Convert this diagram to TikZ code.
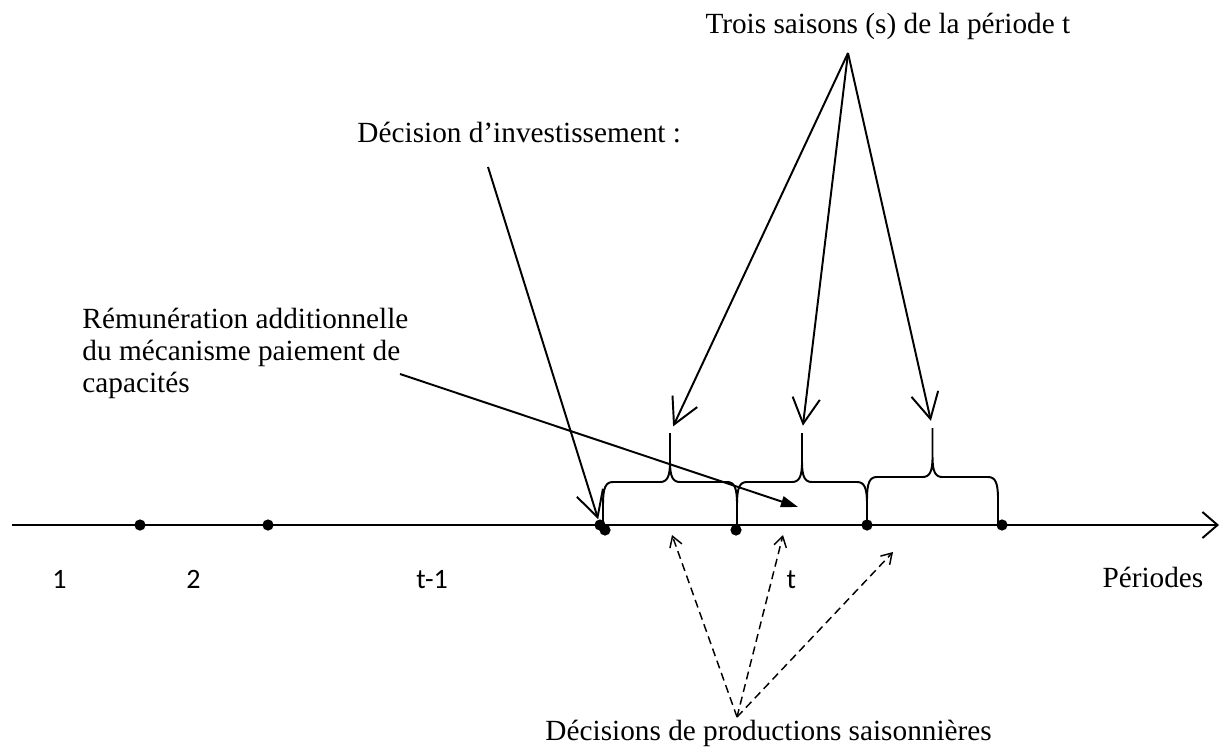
\documentclass[tikz,border=0pt]{standalone}
\usepackage{fontspec}
\setmainfont{Liberation Serif}
\newfontfamily\calibri{Carlito}
\usetikzlibrary{arrows.meta, positioning, calc}
\tikzstyle{fleche} = [line width=0.8pt, -{Straight Barb[length=10.5pt, width=11.2pt]}]
\tikzstyle{pointille} = [line width=0.6pt, dash pattern=on 3.3pt off 2pt, -{Straight Barb[length=4.2pt, width=5.2pt]}]
\tikzstyle{remfleche} = [line width=0.8pt, -{Triangle[length=7pt, width=4.5pt]}]
\tikzstyle{axe} = [line width=0.8pt, -{Straight Barb[length=6.2pt, width=10.7pt]}]
\tikzstyle{accolade} = [line width=0.8pt]
\tikzstyle{point} = [circle, fill=black, inner sep=0pt, minimum size=4.6pt]
\tikzstyle{etiquette} = [inner sep=0pt, anchor=base west, font=\fontsize{12}{13.1}\selectfont]
\tikzstyle{chiffre} = [inner sep=0pt, anchor=base west, font=\calibri\fontsize{11.5}{13}\selectfont]
% accolade : nom de la pointe, x gauche, x droite, y plat, y pointe
\newcommand{\saison}[5]{%
  \pgfmathsetmacro{\xmil}{(#2+#3)/2}
  \draw[accolade] (#2,525) -- (#2,#4+22) .. controls (#2,#4+5) and (#2+3,#4) .. (#2+10,#4)
    -- (\xmil-10,#4) .. controls (\xmil-3,#4) and (\xmil,#4-5) .. (\xmil,#4-20)
    -- (\xmil,#5) coordinate (#1) -- (\xmil,#4-20)
    .. controls (\xmil,#4-5) and (\xmil+3,#4) .. (\xmil+10,#4)
    -- (#3-10,#4) .. controls (#3-3,#4) and (#3,#4+5) .. (#3,#4+22) -- (#3,525);
}
\begin{document}
\begin{tikzpicture}[x=0.41pt, y=-0.41pt]
    \useasboundingbox (0,0) rectangle (1221,747);

    % Axe des periodes
    \coordinate (debut) at (12,525);
    \coordinate (fin) at (1219,525);
    \draw[axe] (debut) -- (fin);

    % Trois saisons de la periode t
    \saison{s1}{603}{737}{482}{433}
    \saison{s2}{737}{867}{482}{433}
    \saison{s3}{867}{998}{477}{428}

    % Points
    \foreach \x/\y/\n in {140/525/d1, 268/525/d2, 600/525/d3, 605/530/d4, 736/530/d5, 867/525/d6, 1002/525/d7}
        \node[point] (\n) at (\x,\y) {};

    % Etiquettes de l'axe
    \node[chiffre] (n1) at (52,588) {1};
    \node[chiffre] (n2) at (186,588) {2};
    \node[chiffre] (ntm1) at (416,588) {t-1};
    \node[chiffre] (nt) at (786,588) {t};
    \node[etiquette] (periodes) at (1102,587) {Périodes};

    % Textes
    \node[etiquette] (saisons) at (705,33) {Trois saisons (s) de la période t};
    \node[etiquette] (invest) at (357,142) {Décision d’investissement :};
    \node[etiquette, anchor=north west, align=left] (remun) at (82,308)
        {Rémunération additionnelle\\du mécanisme paiement de\\capacités};
    \node[etiquette] (prod) at (545,740) {Décisions de productions saisonnières};

    % Fleches
    \coordinate (sommet) at (848,53);
    \foreach \s in {s1, s2, s3}
        \draw[fleche, shorten >=3pt] (sommet) -- (\s);
    \coordinate (depinv) at (488,167);
    \draw[fleche] (depinv) -- (d3);
    \coordinate (deprem) at (400,374);
    \coordinate (finrem) at (798,507);
    \draw[remfleche] (deprem) -- (finrem);
    \coordinate (conv) at (737,717);
    \coordinate (p1) at (672,535);
    \coordinate (p2) at (783,535);
    \coordinate (p3) at (893,552);
    \foreach \p in {p1, p2, p3}
        \draw[pointille] (conv) -- (\p);
\end{tikzpicture}
\end{document}
